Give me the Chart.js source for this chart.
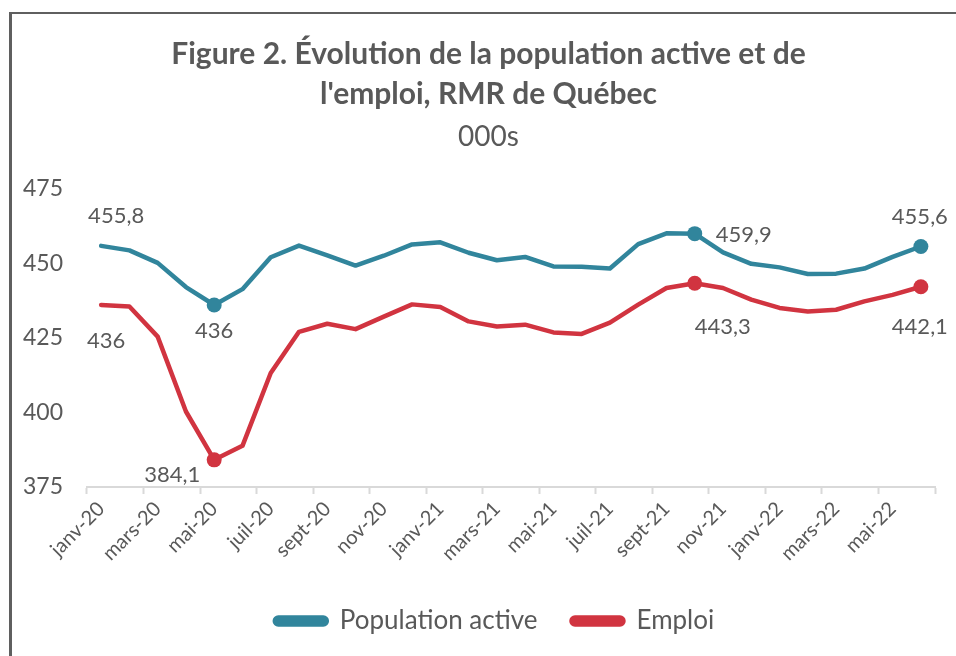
<!DOCTYPE html>
<html>
<head>
<meta charset="utf-8">
<script src="https://cdn.jsdelivr.net/npm/chart.js@4.4.1/dist/chart.umd.min.js"></script>
<style>
  html, body { margin:0; padding:0; background:#fff; }
  #wrap { position:relative; width:956px; height:656px; }
  #frame { position:absolute; left:9px; top:12px; right:0; bottom:0; border-left:3px solid #5f5f5f; border-top:2px solid #5f5f5f; pointer-events:none; }
</style>
</head>
<body>
<div id="wrap">
  <canvas id="chart" width="956" height="656"></canvas>
  <div id="frame"></div>
</div>
<script>
// données (milliers), RMR de Québec
const mois = ['janv-20','févr-20','mars-20','avr-20','mai-20','juin-20','juil-20','août-20','sept-20','oct-20','nov-20','déc-20',
              'janv-21','févr-21','mars-21','avr-21','mai-21','juin-21','juil-21','août-21','sept-21','oct-21','nov-21','déc-21',
              'janv-22','févr-22','mars-22','avr-22','mai-22','juin-22'];
const populationActive = [455.8, 454.3, 450.1, 442.0, 436.0, 441.3, 452.0, 455.9, 452.6, 449.2, 452.5, 456.3,
                          457.0, 453.5, 451.0, 452.1, 448.9, 448.8, 448.2, 456.4, 460.0, 459.9, 453.6, 449.8,
                          448.6, 446.4, 446.5, 448.2, 452.1, 455.6];
const emploi = [436.0, 435.5, 425.4, 400.3, 384.1, 388.8, 413.2, 427.0, 429.7, 427.9, 432.1, 436.2,
                435.3, 430.5, 428.8, 429.4, 426.8, 426.3, 430.1, 436.1, 441.7, 443.3, 441.7, 437.8,
                435.0, 433.8, 434.4, 437.2, 439.4, 442.1];
const yTicks = [375, 400, 425, 450, 475];
const pointsMarques = [4, 21, 29];

const TEAL = '#31859C', RED = '#D13440', GREY = '#595959';
const FONT = 'Lato, "Open Sans", sans-serif';

// décalage des étiquettes de valeur (px) par série : index -> [dx, dy]
const etiquettes = [
  {0:[15,-30], 4:[0,26], 21:[49,1], 29:[-1,-30]},
  {0:[5,36], 4:[-42,15], 21:[28,44], 29:[-1,40]}
];

const fmt = v => String(Math.round(v*10)/10).replace('.', ',');

const labelPlugin = {
  id: 'valeurs',
  // titre et légende un peu décalés vers la droite, comme dans l'original
  afterLayout(chart){
    chart.boxes.forEach(b => {
      if (b.axis !== undefined) return;
      const dx = b.position === 'bottom' ? 27 : 21;
      b.left += dx; b.right += dx;
    });
  },
  afterDatasetsDraw(chart){
    const ctx = chart.ctx;
    ctx.save();
    ctx.font = '22px ' + FONT;
    ctx.fillStyle = GREY;
    ctx.textAlign = 'center';
    ctx.textBaseline = 'middle';
    chart.data.datasets.forEach((ds, di) => {
      const meta = chart.getDatasetMeta(di);
      Object.keys(etiquettes[di]).forEach(k => {
        const i = Number(k), off = etiquettes[di][k];
        const pt = meta.data[i];
        ctx.fillText(fmt(ds.data[i]), pt.x + off[0], pt.y + off[1]);
      });
    });
    ctx.restore();
  }
};

const rayon = c => pointsMarques.includes(c.dataIndex) ? 7.5 : 0;

new Chart(document.getElementById('chart'), {
  type: 'line',
  data: {
    labels: mois,
    datasets: [
      { label: 'Population active', data: populationActive, borderColor: TEAL, backgroundColor: TEAL,
        borderWidth: 4.5, pointRadius: rayon, pointHoverRadius: rayon, pointBorderWidth: 0, tension: 0,
        borderJoinStyle: 'round', borderCapStyle: 'round' },
      { label: 'Emploi', data: emploi, borderColor: RED, backgroundColor: RED,
        borderWidth: 4.5, pointRadius: rayon, pointHoverRadius: rayon, pointBorderWidth: 0, tension: 0,
        borderJoinStyle: 'round', borderCapStyle: 'round' }
    ]
  },
  options: {
    responsive: false,
    animation: false,
    layout: { padding: { left: 0, right: 21, top: 0, bottom: 12 } },
    plugins: {
      title: {
        display: true,
        text: ["Figure 2. Évolution de la population active et de", "l'emploi, RMR de Québec"],
        color: GREY,
        font: { family: FONT, size: 30, weight: 'bold', lineHeight: 1.3333 },
        padding: { top: 34, bottom: 0 }
      },
      subtitle: {
        display: true,
        text: '000s',
        color: GREY,
        font: { family: FONT, size: 28, weight: 'normal', lineHeight: 1.2 },
        padding: { top: 6, bottom: 35 }
      },
      legend: {
        position: 'bottom',
        labels: {
          color: GREY,
          font: { family: FONT, size: 26 },
          boxWidth: 52, boxHeight: 7,
          useBorderRadius: true, borderRadius: 3.5,
          padding: 34
        }
      },
      tooltip: { enabled: false }
    },
    scales: {
      x: {
        offset: true,
        afterFit: s => { s.height = 87; },
        grid: {
          offset: true, drawOnChartArea: false, drawTicks: true, tickLength: 7, tickWidth: 2,
          tickColor: c => (c.index === undefined || c.index % 2 === 0) ? '#D9D9D9' : 'rgba(0,0,0,0)'
        },
        border: { display: true, color: '#D9D9D9', width: 2 },
        ticks: {
          autoSkip: false, minRotation: 45, maxRotation: 45,
          color: GREY, font: { family: FONT, size: 20 },
          callback: function(v, i){ return i % 2 === 0 ? this.getLabelForValue(v) : ''; }
        }
      },
      y: {
        min: yTicks[0], max: yTicks[yTicks.length-1],
        afterFit: s => { s.width = 87; },
        afterBuildTicks: s => { s.ticks = yTicks.map(v => ({ value: v })); },
        grid: { display: false, drawTicks: false },
        border: { display: false },
        ticks: { color: GREY, font: { family: FONT, size: 23 }, padding: 24 }
      }
    }
  },
  plugins: [labelPlugin]
});
</script>
</body>
</html>
